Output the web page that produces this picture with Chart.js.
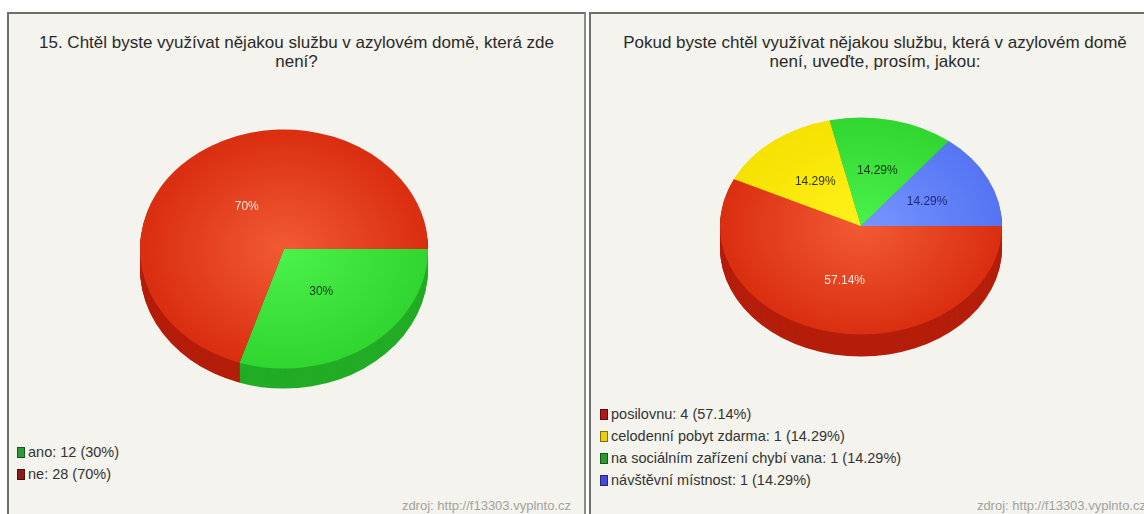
<!DOCTYPE html>
<html lang="cs">
<head>
<meta charset="utf-8">
<script src="https://cdn.jsdelivr.net/npm/chart.js@4"></script>
<style>
  html, body { margin: 0; padding: 0; background: #fff; overflow: hidden; width: 1144px; height: 514px; }
  body { position: relative; font-family: Arial, 'Liberation Sans', sans-serif; }
  .panel {
    position: absolute; top: 12px; height: 520px;
    background: #f4f3ed;
    border-top: 2px solid #6f6f6b; border-left: 2px solid #6f6f6b; border-right: 2px solid #8a8a86;
  }
  #p1 { left: 7px; width: 575px; }
  #p2 { left: 589px; width: 568px; }
  .title { position: absolute; left: 0; right: 0; top: 19px; text-align: center; font-size: 17px; line-height: 19px; color: #2a2a2a; }
  .pie { position: absolute; width: 300px; height: 300px; }
  .legend { position: absolute; left: 8px; margin: 0; padding: 0; list-style: none; font-size: 14.5px; color: #333; }
  .legend li { height: 22px; line-height: 22px; white-space: nowrap; }
  .legend .sw { display: inline-block; width: 6px; height: 9px; margin-right: 3px; vertical-align: -1px; border: 1px solid rgba(0,0,0,0.45); }
  .src { position: absolute; right: 13px; top: 484px; font-size: 13px; color: #a2a29e; }
</style>
</head>
<body>
<div class="panel" id="p1">
  <div class="title">15. Chtěl byste využívat nějakou službu v azylovém domě, která zde<br>není?</div>
  <div class="pie" style="left:125px; top:85px;"><canvas id="pie1" width="300" height="300"></canvas></div>
  <ul class="legend" id="legend1" style="top:427px;"></ul>
  <div class="src">zdroj: http://f13303.vyplnto.cz</div>
</div>
<div class="panel" id="p2">
  <div class="title">Pokud byste chtěl využívat nějakou službu, která v azylovém domě<br>není, uveďte, prosím, jakou:</div>
  <div class="pie" style="left:120px; top:62px;"><canvas id="pie2" width="300" height="300"></canvas></div>
  <ul class="legend" id="legend2" style="top:389px; left:9px;"></ul>
  <div class="src">zdroj: http://f13303.vyplnto.cz</div>
</div>
<script>
// otázka 15
const answerLabels = ['ano', 'ne'];
const answerCounts = [12, 28];

// doplňující otázka - chybějící služby
const serviceLabels = ['posilovnu', 'celodenní pobyt zdarma', 'na sociálním zařízení chybí vana', 'návštěvní místnost'];
const serviceCounts = [4, 1, 1, 1];

// barvy: střed výseče, okraj výseče, bok, legenda, popisek
const answerColors = {
  light: ['#4cf24c', '#f25a34'],
  dark: ['#2fd42f', '#d82c0e'],
  side: ['#22ac26', '#b41e0a'],
  legend: ['#2a9a3a', '#8a1c1c'],
  text: ['#123312', '#fbe6dc'],
};
const serviceColors = {
  light: ['#f25a34', '#fff21a', '#4cf24c', '#7896ff'],
  dark: ['#d82c0e', '#f5e000', '#2fd42f', '#5272f2'],
  side: ['#b41e0a', '#cdbb00', '#22ac26', '#3f5cd6'],
  legend: ['#b01a1a', '#e8cf10', '#2a9a2a', '#4646d8'],
  text: ['#fbe6dc', '#333300', '#0c330c', '#1c2a7a'],
};

function pct(v, total) {
  const p = v / total * 100;
  return Number.isInteger(p) ? p + '%' : p.toFixed(2) + '%';
}

// radiální přechod na horní ploše koláče
function faceFill(colors) {
  return (c) => {
    const area = c.chart.chartArea;
    if (!area) return colors.dark[c.dataIndex];
    const cx = (area.left + area.right) / 2, cy = (area.top + area.bottom) / 2;
    const r = Math.min(area.width, area.height) / 2;
    const g = c.chart.ctx.createRadialGradient(cx, cy, 0, cx, cy, r);
    g.addColorStop(0, colors.light[c.dataIndex]);
    g.addColorStop(1, colors.dark[c.dataIndex]);
    return g;
  };
}

// naklonění koláče, bok a procenta ve výsečích
const pie3d = {
  id: 'pie3d',
  beforeDatasetsDraw(chart, args, opts) {
    const arcs = chart.getDatasetMeta(0).data;
    const ctx = chart.ctx;
    const cx = arcs[0].x, cy = arcs[0].y;
    ctx.save();
    ctx.translate(cx, cy);
    ctx.scale(1, opts.tilt);
    ctx.translate(-cx, -cy);
    for (let d = opts.depth; d > 0; d--) {
      const off = d / opts.tilt;
      arcs.forEach((arc, i) => {
        ctx.beginPath();
        ctx.moveTo(arc.x, arc.y + off);
        ctx.arc(arc.x, arc.y + off, arc.outerRadius, arc.startAngle, arc.endAngle);
        ctx.closePath();
        ctx.fillStyle = opts.side[i];
        ctx.fill();
      });
    }
  },
  afterDatasetsDraw(chart, args, opts) {
    const ctx = chart.ctx;
    ctx.restore();
    const data = chart.data.datasets[0].data;
    const total = data.reduce((a, b) => a + b, 0);
    ctx.save();
    ctx.font = '12px Arial, "Liberation Sans", sans-serif';
    ctx.textAlign = 'center';
    ctx.textBaseline = 'middle';
    chart.getDatasetMeta(0).data.forEach((arc, i) => {
      const mid = (arc.startAngle + arc.endAngle) / 2;
      const r = arc.outerRadius * opts.labelAt;
      ctx.fillStyle = opts.text[i];
      ctx.fillText(pct(data[i], total), arc.x + Math.cos(mid) * r, arc.y + Math.sin(mid) * r * opts.tilt);
    });
    ctx.restore();
  }
};

function makePie(id, labels, counts, colors, radius, tilt, depth, labelAt) {
  return new Chart(document.getElementById(id), {
    type: 'pie',
    data: {
      labels: labels,
      datasets: [{
        data: counts,
        backgroundColor: faceFill(colors),
        borderWidth: 0,
        radius: radius,
      }],
    },
    options: {
      responsive: false,
      animation: false,
      events: [],
      rotation: 90,
      layout: { padding: 0 },
      plugins: {
        legend: { display: false },
        tooltip: { enabled: false },
        pie3d: { tilt: tilt, depth: depth, side: colors.side, text: colors.text, labelAt: labelAt },
      },
    },
    plugins: [pie3d],
  });
}

function fillLegend(id, labels, counts, colors) {
  const total = counts.reduce((a, b) => a + b, 0);
  const ul = document.getElementById(id);
  labels.forEach((l, i) => {
    const li = document.createElement('li');
    const sw = document.createElement('span');
    sw.className = 'sw';
    sw.style.background = colors.legend[i];
    li.appendChild(sw);
    li.appendChild(document.createTextNode(l + ': ' + counts[i] + ' (' + pct(counts[i], total) + ')'));
    ul.appendChild(li);
  });
}

makePie('pie1', answerLabels, answerCounts, answerColors, 144, 0.83, 20, 0.44);
makePie('pie2', serviceLabels, serviceCounts, serviceColors, 141, 0.77, 22, 0.52);
fillLegend('legend1', answerLabels, answerCounts, answerColors);
fillLegend('legend2', serviceLabels, serviceCounts, serviceColors);
</script>
</body>
</html>
